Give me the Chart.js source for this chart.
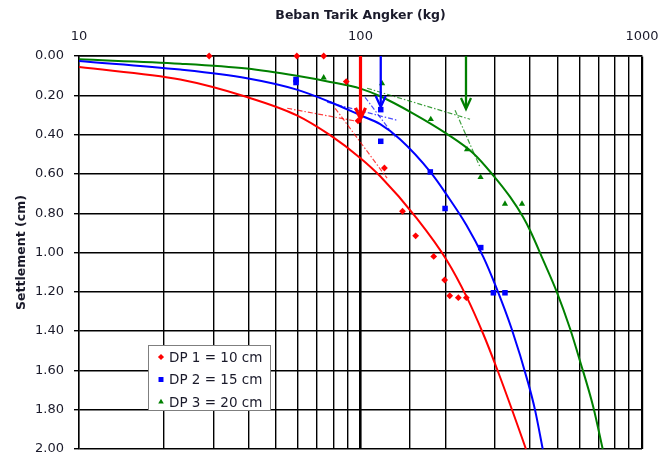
<!DOCTYPE html>
<html><head><meta charset="utf-8">
<script src="https://cdn.jsdelivr.net/npm/chart.js@4.4.1/dist/chart.umd.min.js"></script>
<style>html,body{margin:0;padding:0;background:#fff}#wrap{width:660px;height:459px}</style>
</head><body><div id="wrap"><canvas id="c" width="660" height="459"></canvas></div>
<script>
// ---------- DATA ----------
const xTitle = 'Beban Tarik Angker (kg)';
const yTitle = 'Settlement (cm)';
const xTickLabels = [10, 100, 1000];
const seriesNames = ['DP 1 = 10 cm', 'DP 2 = 15 cm', 'DP 3 = 20 cm'];

// measured points (load kg, settlement cm)
const dp1Load   = [29, 59.4, 74, 89, 98, 121.6, 141, 157, 182, 199, 207.5, 222.6, 237.7];
const dp1Settle = [0, 0, 0, 0.13, 0.33, 0.57, 0.79, 0.915, 1.02, 1.14, 1.22, 1.23, 1.23];
const dp2Load   = [59, 59, 118, 118, 177, 199.7, 267.4, 296.5, 326];
const dp2Settle = [0.12, 0.135, 0.273, 0.434, 0.59, 0.776, 0.975, 1.205, 1.205];
const dp3Load   = [74, 119.3, 177.7, 239, 267, 326, 374.8];
const dp3Settle = [0.11, 0.14, 0.322, 0.476, 0.617, 0.753, 0.753];

// fitted curves
const fit1Load   = [10, 22.9, 39.5, 59.4, 78, 100, 117.5, 158.5, 202.5, 238.5, 273.2, 304.8, 348.9, 387];
const fit1Settle = [0.056, 0.12, 0.209, 0.302, 0.403, 0.52, 0.612, 0.826, 1.039, 1.227, 1.416, 1.589, 1.818, 2.0];
const fit2Load   = [10, 22.9, 39.5, 59.4, 78, 100, 117.5, 138.2, 177, 203, 238, 273, 303, 344, 394.5, 417, 444];
const fit2Settle = [0.025, 0.069, 0.113, 0.171, 0.234, 0.302, 0.347, 0.424, 0.59, 0.709, 0.861, 1.022, 1.175, 1.387, 1.666, 1.802, 2.0];
const fit3Load   = [10, 22.9, 39.5, 59.4, 78, 100, 117.5, 154, 202, 252, 296, 340, 378, 400, 446, 498, 555, 601, 671, 725];
const fit3Settle = [0.017, 0.039, 0.064, 0.101, 0.132, 0.166, 0.205, 0.293, 0.395, 0.496, 0.607, 0.717, 0.819, 0.887, 1.04, 1.2, 1.387, 1.548, 1.785, 2.0];

// tangent lines (two per series: start/end)
const dp1TangentLoad   = [[54.9, 101.3], [81.3, 124.3]];
const dp1TangentSettle = [[0.266, 0.337], [0.266, 0.622]];
const dp2TangentLoad   = [[76.1, 134.9], [103.8, 132.7]];
const dp2TangentSettle = [[0.235, 0.327], [0.21, 0.413]];
const dp3TangentLoad   = [[105.5, 245], [216.7, 266]];
const dp3TangentSettle = [[0.164, 0.322], [0.276, 0.566]];

// ultimate-load arrows
const arrowLoad   = [100, 118, 237];
const arrowSettle = [0.32, 0.26, 0.27];

// ---------- STYLE ----------
const seriesColors = ['#ff0000', '#0000ff', '#008000'];
const tangentColors = ['rgba(255,0,0,0.75)', 'rgba(0,0,255,0.7)', 'rgba(0,128,0,0.75)'];
const pointStyles = ['rectRot', 'rect', 'triangle'];
const pointRadii = [3.4, 3.9, 3.6];
const arrowWidths = [3.2, 2.3, 2.3];
const FONT = '"DejaVu Sans", "Liberation Sans", sans-serif';
Chart.defaults.font.family = FONT;
Chart.defaults.color = '#1a1a2a';

const zip = (a, b) => a.map((v, i) => ({x: v, y: b[i]}));
const pts = [[dp1Load, dp1Settle], [dp2Load, dp2Settle], [dp3Load, dp3Settle]];
const fits = [[fit1Load, fit1Settle], [fit2Load, fit2Settle], [fit3Load, fit3Settle]];
const tans = [[dp1TangentLoad, dp1TangentSettle], [dp2TangentLoad, dp2TangentSettle], [dp3TangentLoad, dp3TangentSettle]];

const datasets = [];
pts.forEach((p, i) => datasets.push({
  label: seriesNames[i], data: zip(p[0], p[1]), showLine: false,
  pointStyle: pointStyles[i], pointRadius: pointRadii[i], pointBorderWidth: 0,
  pointBackgroundColor: seriesColors[i], backgroundColor: seriesColors[i], borderColor: seriesColors[i],
  order: 1, clip: false
}));
fits.forEach((f, i) => datasets.push({
  label: 'fit' + i, data: zip(f[0], f[1]), showLine: true, pointRadius: 0,
  borderColor: seriesColors[i], borderWidth: 2, cubicInterpolationMode: 'monotone', order: 2
}));
tans.forEach((t, i) => t[0].forEach((l, j) => datasets.push({
  label: 'tan' + i + j, data: zip(l, t[1][j]), showLine: true, pointRadius: 0,
  borderColor: tangentColors[i], borderWidth: 1.2, borderDash: [5, 2, 1.5, 2], order: 3
})));

const arrowPlugin = {
  id: 'arrows',
  afterDatasetsDraw(chart) {
    const xs = chart.scales.x, ys = chart.scales.y, ctx = chart.ctx;
    arrowLoad.forEach((l, i) => {
      const px = xs.getPixelForValue(l);
      const y0 = ys.getPixelForValue(0);
      const y1 = ys.getPixelForValue(arrowSettle[i]);
      ctx.save();
      ctx.strokeStyle = seriesColors[i];
      ctx.lineWidth = arrowWidths[i];
      ctx.lineCap = 'butt';
      ctx.beginPath(); ctx.moveTo(px, y0); ctx.lineTo(px, y1 - 1); ctx.stroke();
      ctx.lineJoin = 'miter';
      ctx.beginPath(); ctx.moveTo(px - 5, y1 - 11); ctx.lineTo(px, y1); ctx.lineTo(px + 5, y1 - 11); ctx.stroke();
      ctx.restore();
    });
  }
};

const legendPlugin = {
  id: 'boxLegend',
  afterDraw(chart) {
    const ctx = chart.ctx;
    const bx = 148, by = 345, bw = 122, bh = 65;
    ctx.save();
    ctx.fillStyle = '#fff'; ctx.fillRect(bx, by, bw, bh);
    ctx.strokeStyle = '#7f7f7f'; ctx.lineWidth = 1; ctx.strokeRect(bx + 0.5, by + 0.5, bw, bh);
    ctx.font = '13.5px ' + FONT; ctx.textBaseline = 'middle'; ctx.textAlign = 'left';
    seriesNames.forEach((n, i) => {
      const cy = by + 12 + i * 22.5;
      ctx.fillStyle = seriesColors[i];
      Chart.helpers.drawPoint(ctx, {pointStyle: pointStyles[i], radius: pointRadii[i] * 0.9, rotation: 0, borderWidth: 0}, bx + 13, cy);
      ctx.fillStyle = '#1a1a2a';
      ctx.fillText(n, bx + 21, cy + 1);
    });
    ctx.restore();
  }
};

new Chart(document.getElementById('c'), {
  type: 'scatter',
  data: {datasets},
  plugins: [arrowPlugin, legendPlugin],
  options: {
    responsive: false, animation: false, devicePixelRatio: 1,
    layout: {padding: {left: 0, right: 18, top: 0, bottom: 10}},
    plugins: {legend: {display: false}, tooltip: {enabled: false}},
    scales: {
      x: {
        type: 'logarithmic', position: 'top', min: 10, max: 1000,
        afterFit(s) { s.height = 56; s.paddingLeft = 0; s.paddingRight = 0; },
        title: {display: true, text: xTitle, font: {size: 12.5, weight: 'bold'}, padding: {top: 8, bottom: 0}},
        ticks: {
          autoSkip: false, maxRotation: 0, padding: 12, font: {size: 13},
          callback: (v) => xTickLabels.some(t => Math.abs(t - v) < 1e-6) ? String(v) : ''
        },
        grid: {
          color: '#000', drawTicks: false,
          lineWidth: (c) => (c.tick && (Math.abs(c.tick.value - 100) < 1e-6)) ? 2.6 : ((c.tick && Math.abs(c.tick.value - 1000) < 1e-6) ? 2.2 : 1.4)
        },
        border: {color: '#000', width: 1.4}
      },
      y: {
        type: 'linear', reverse: true, min: 0, max: 2,
        afterFit(s) { s.width = 79; s.paddingTop = 0; s.paddingBottom = 0; },
        title: {display: true, text: yTitle, font: {size: 12.5, weight: 'bold'}, padding: {top: 14, bottom: 0}},
        ticks: {stepSize: 0.2, padding: 10, font: {size: 13}, callback: (v) => Number(v).toFixed(2)},
        grid: {color: '#000', lineWidth: 1.4, drawTicks: true, tickLength: 5},
        border: {color: '#000', width: 1.4}
      }
    }
  }
});
</script>
</body></html>
